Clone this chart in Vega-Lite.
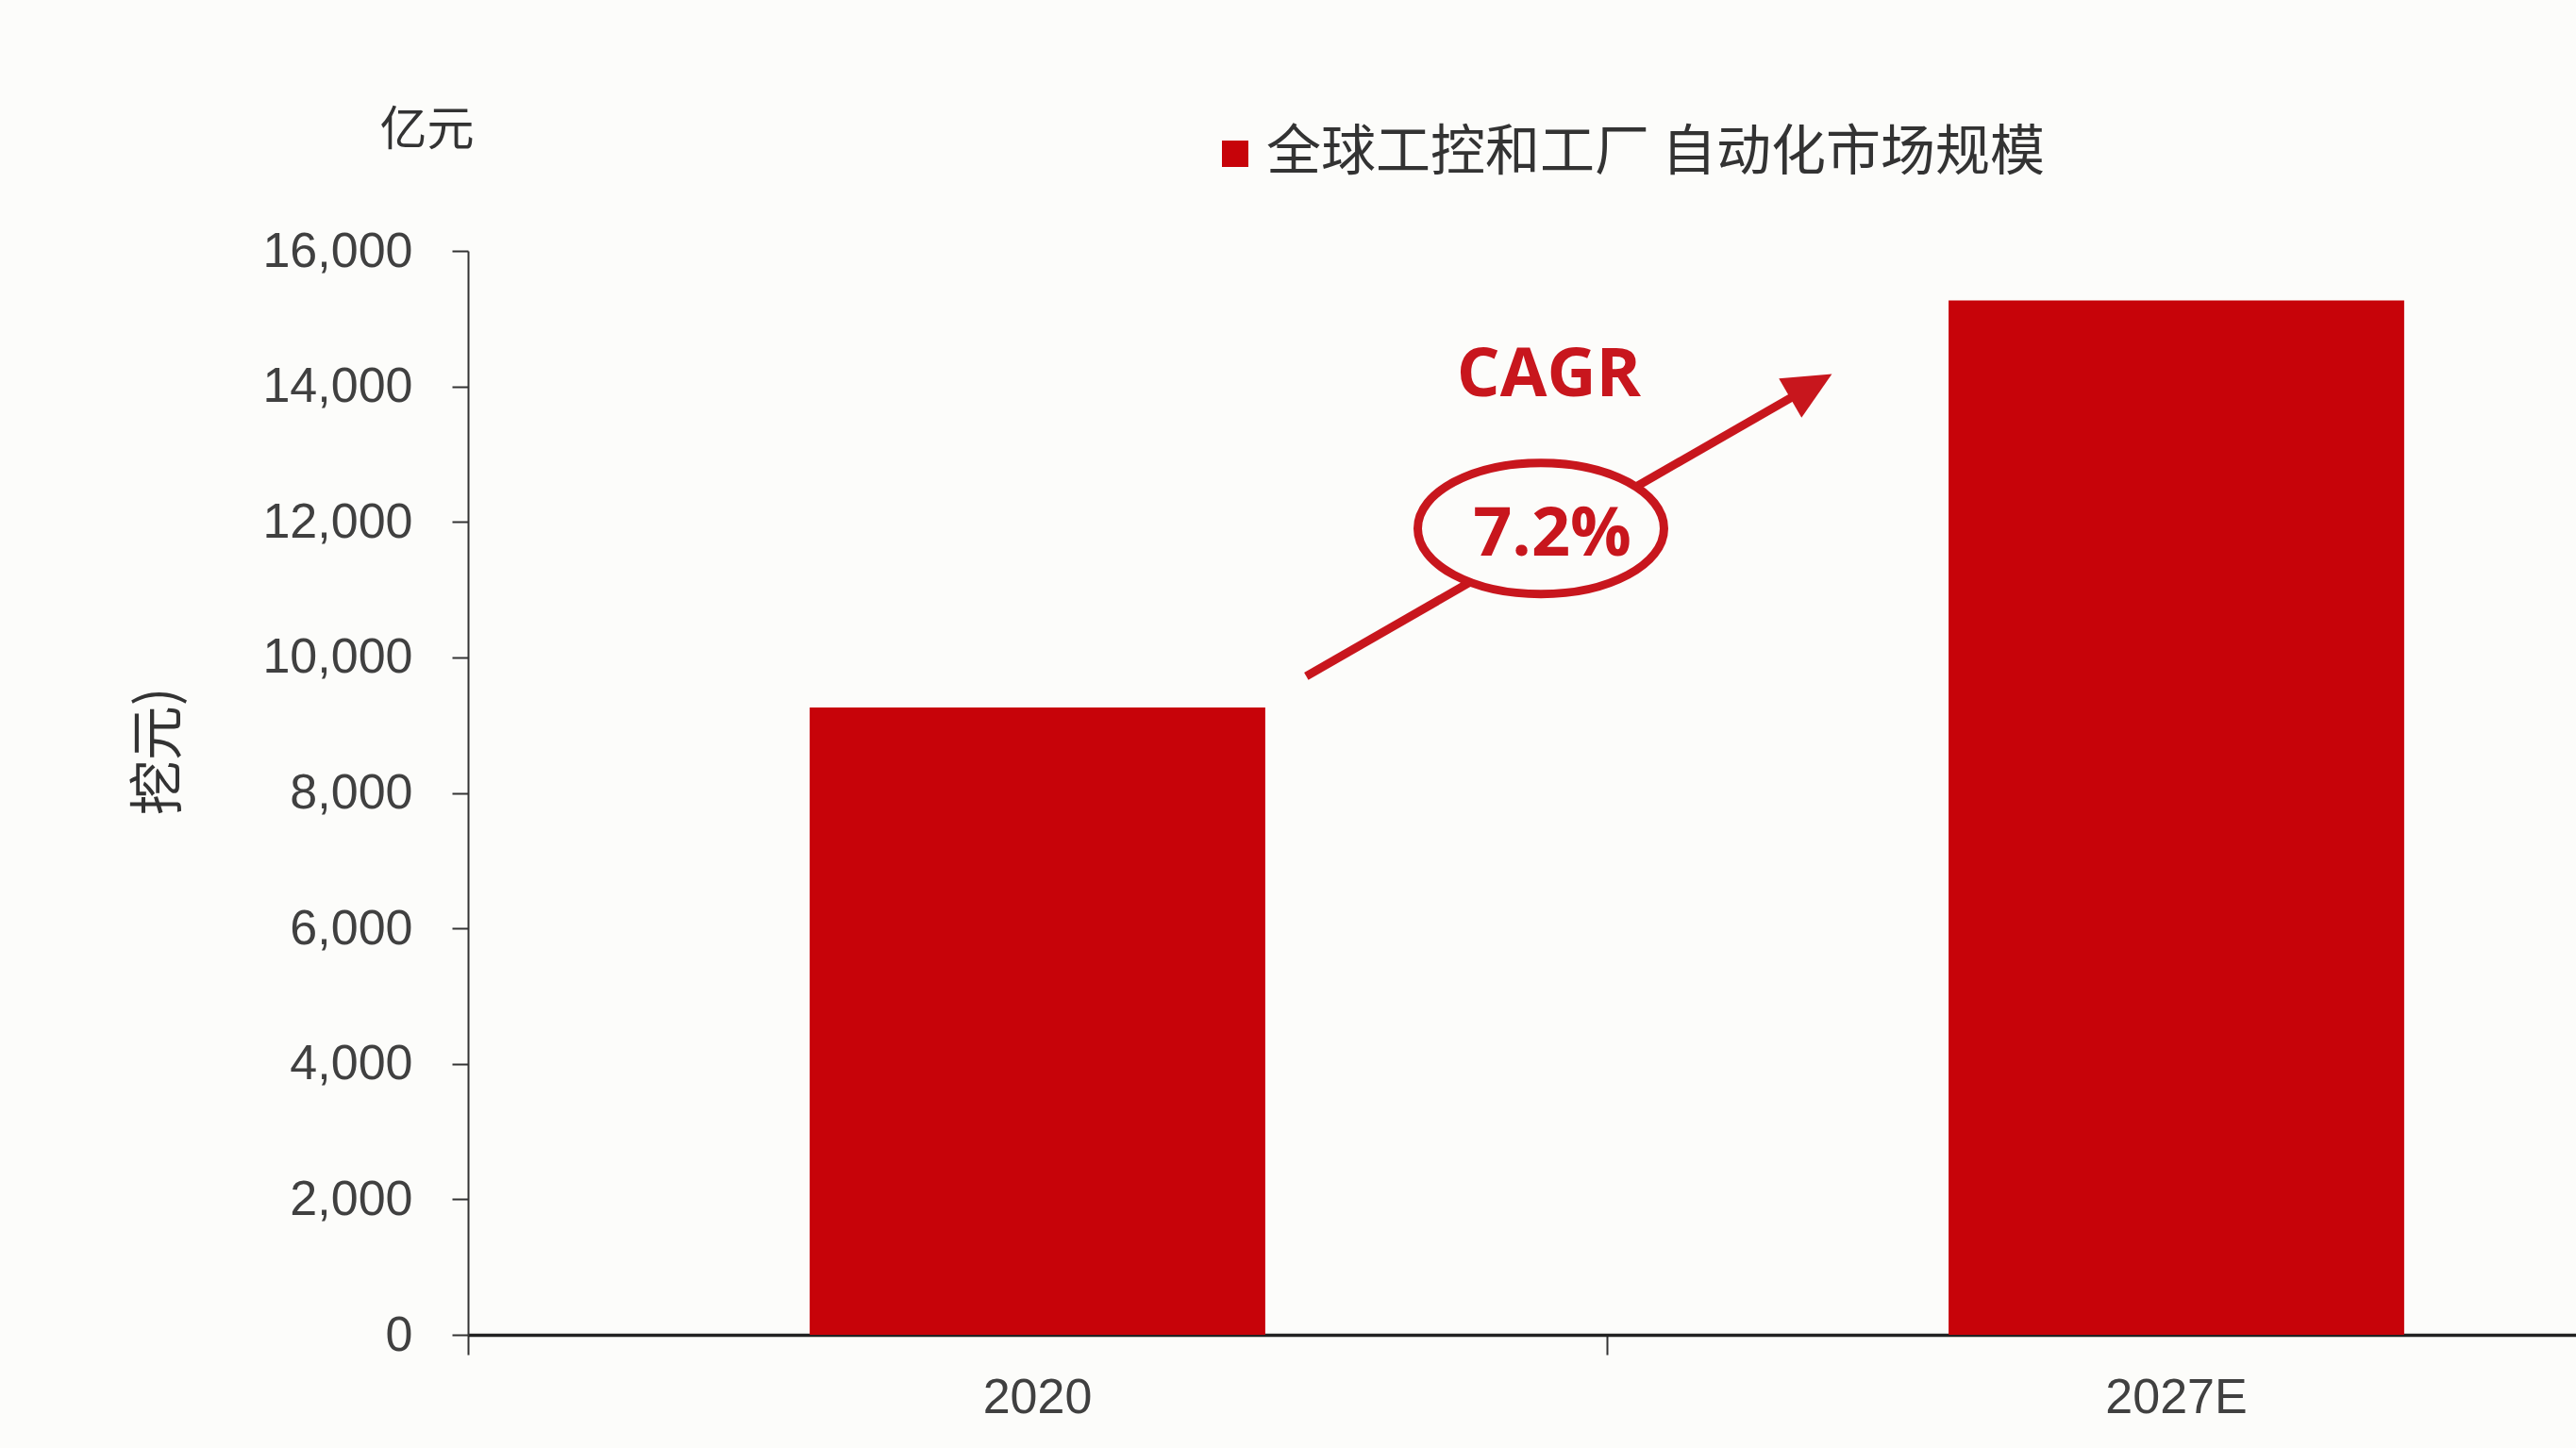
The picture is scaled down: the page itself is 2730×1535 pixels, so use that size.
{
  "$schema": "https://vega.github.io/schema/vega-lite/v6.json",
  "autosize": {"type": "none"},
  "width": 2234,
  "height": 1149,
  "padding": {"left": 496, "top": 266, "right": 0, "bottom": 120},
  "background": "#fcfcfa",
  "config": {"view": {"stroke": null}},
  "datasets": {
    "bars": [
      {"year": "2020", "value": 9260, "series": "全球工控和工厂 自动化市场规模"},
      {"year": "2027E", "value": 15270, "series": "全球工控和工厂 自动化市场规模"}
    ],
    "arrowLine": [{"u": 0.736, "value": 9721}, {"u": 1.176, "value": 13973}],
    "arrowHead": [{"u": 1.176, "value": 13973}],
    "ring": [{"u": 0.942, "value": 11903}],
    "labels": [
      {"u": 0.949, "value": 14158, "text": "CAGR"},
      {"u": 0.952, "value": 11806, "text": "7.2%"}
    ],
    "unit": [{"u": -0.036, "value": 17770, "text": "亿元"}]
  },
  "layer": [
    {
      "data": {"name": "bars"},
      "mark": {"type": "bar", "width": {"band": 0.4}, "color": "#c70309"},
      "encoding": {
        "x": {
          "field": "year", "type": "nominal", "sort": null,
          "scale": {"domain": ["2020", "2027E"], "range": [0, 2414], "paddingInner": 0, "paddingOuter": 0},
          "axis": {
            "title": null, "bandPosition": 0,
            "tickSize": 21, "tickWidth": 2, "tickColor": "#333333",
            "domainColor": "#222222", "domainWidth": 3.5,
            "labelFont": "Liberation Sans", "labelFontSize": 52, "labelColor": "#404040",
            "labelPadding": 20, "labelOverlap": false, "labelFlush": false, "labelBound": false, "labelAngle": 0
          }
        },
        "y": {
          "field": "value", "type": "quantitative",
          "scale": {"domain": [0, 16000], "nice": false},
          "axis": {
            "title": "挖元)", "titleFont": "Noto Sans CJK SC", "titleFontSize": 58, "titleFontWeight": "normal",
            "titleColor": "#333333", "titleAngle": -90, "titleX": -327, "titleY": 530,
            "titleAlign": "center", "titleBaseline": "middle",
            "values": [0, 2000, 4000, 6000, 8000, 10000, 12000, 14000, 16000],
            "format": ",d", "grid": false,
            "tickSize": 17, "tickWidth": 2, "tickColor": "#333333",
            "domainColor": "#333333", "domainWidth": 2,
            "labelFont": "Liberation Sans", "labelFontSize": 52, "labelColor": "#404040", "labelPadding": 42
          }
        },
        "color": {
          "field": "series", "type": "nominal",
          "scale": {"range": ["#c70309"]},
          "legend": {
            "title": null, "orient": "none", "legendX": 784, "legendY": -132,
            "symbolType": "square", "symbolSize": 784, "symbolStrokeWidth": 0,
            "labelFont": "Noto Sans CJK SC", "labelFontSize": 58, "labelColor": "#333333",
            "labelOffset": 4, "padding": 0, "labelLimit": 2000
          }
        }
      }
    },
    {
      "encoding": {
        "x": {"field": "u", "type": "quantitative", "scale": {"domain": [0, 2], "range": [0, 2414]}, "axis": null},
        "y": {"field": "value", "type": "quantitative"}
      },
      "layer": [
        {"data": {"name": "arrowLine"}, "mark": {"type": "line", "color": "#c8161d", "strokeWidth": 9, "strokeCap": "butt"}},
        {"data": {"name": "arrowHead"}, "mark": {"type": "point", "shape": "M0,-1L0.8,0.7L-0.8,0.7Z", "size": 3600, "angle": 60, "filled": true, "color": "#c8161d", "opacity": 1}},
        {"data": {"name": "ring"}, "mark": {"type": "point", "shape": "M-1,0A1,0.533,0,1,0,1,0A1,0.533,0,1,0,-1,0Z", "size": 68121, "filled": true, "fill": "#fcfcfa", "stroke": "#c8161d", "strokeWidth": 9, "opacity": 1}},
        {"data": {"name": "labels"}, "mark": {"type": "text", "font": "Open Sans", "fontWeight": "bold", "fontSize": 72, "color": "#c8161d", "align": "center", "baseline": "middle"}, "encoding": {"text": {"field": "text"}}},
        {"data": {"name": "unit"}, "mark": {"type": "text", "font": "Noto Sans CJK SC", "fontSize": 50, "color": "#333333", "align": "center", "baseline": "middle"}, "encoding": {"text": {"field": "text"}}}
      ]
    }
  ],
  "resolve": {"scale": {"x": "independent"}}
}
